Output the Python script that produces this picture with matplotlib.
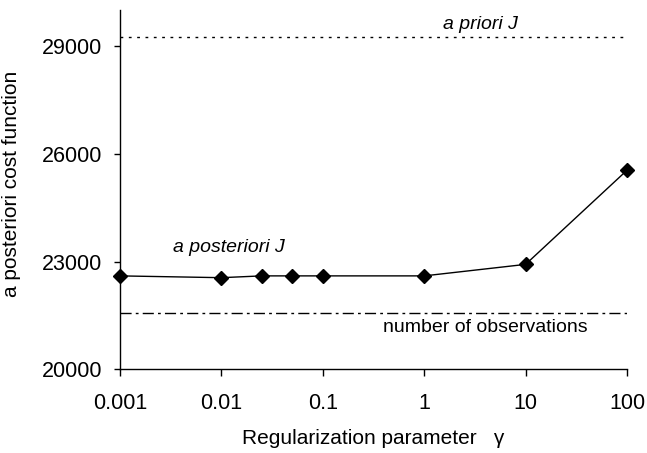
import matplotlib
matplotlib.use("Agg")
import matplotlib.pyplot as plt

# Datos
gamma = [0.001, 0.01, 0.025, 0.05, 0.1, 1, 10, 100]
j_post = [22600, 22550, 22600, 22600, 22600, 22600, 22920, 25540]
j_prior = 29250
n_obs = 21570
xticks = [0.001, 0.01, 0.1, 1, 10, 100]
xtick_labels = ["0.001", "0.01", "0.1", "1", "10", "100"]
yticks = [20000, 23000, 26000, 29000]

plt.rcParams['font.family'] = ['Liberation Sans', 'DejaVu Sans']

fig = plt.figure(figsize=(6.47, 4.53), dpi=100)
ax = fig.add_axes([120 / 647, 1 - 369.3 / 453, 507 / 647, 359.3 / 453])

ax.set_xscale("log")
ax.set_xlim(0.001, 100)
ax.set_ylim(20000, 30000)

ax.axhline(j_prior, color="black", lw=1.0, linestyle=(0, (2, 4)))
ax.axhline(n_obs, color="black", lw=1.0, linestyle=(0, (8, 3, 2, 3)))
ax.plot(gamma, j_post, color="black", lw=1.0, marker="D", markersize=7,
        clip_on=False, zorder=3)

ax.text(1.52, 29590, "a priori J", fontsize=14, style="italic", ha="left", va="center")
ax.text(0.00331, 23390, "a posteriori J", fontsize=14, style="italic", ha="left", va="center")
ax.text(0.395, 21150, "number of observations", fontsize=14, ha="left", va="center")

ax.set_xticks(xticks)
ax.set_xticklabels(xtick_labels)
ax.minorticks_off()
ax.set_yticks(yticks)
ax.tick_params(axis="x", direction="out", length=5, width=1, labelsize=15.5, pad=12)
ax.tick_params(axis="y", direction="out", length=4, width=1, labelsize=15.5, pad=9)

for s in ["top", "right"]:
    ax.spines[s].set_visible(False)
for s in ["left", "bottom"]:
    ax.spines[s].set_linewidth(1.0)

ax.set_xlabel("Regularization parameter   \u03b3", fontsize=15)
ax.xaxis.set_label_coords(0.5, -0.165)
ax.set_ylabel("a posteriori cost function", fontsize=15)
ax.yaxis.set_label_coords(-0.195, 0.516)

fig.savefig("out.png", dpi=100)
